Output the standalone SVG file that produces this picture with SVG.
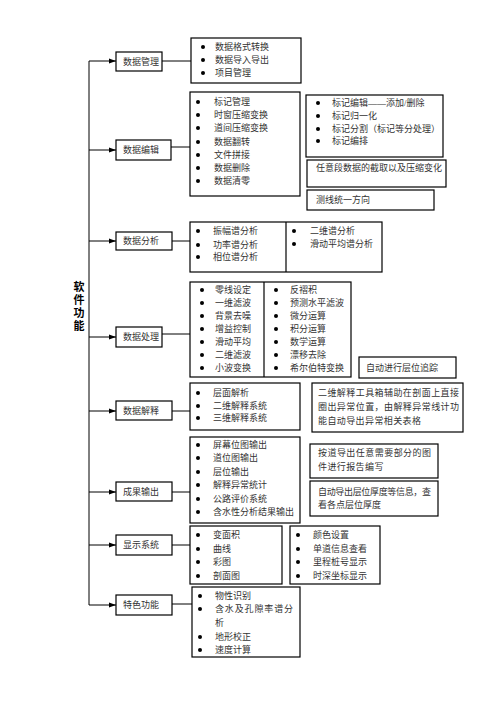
<svg xmlns="http://www.w3.org/2000/svg" width="496" height="702" viewBox="0 0 496 702">
<defs>
<style>
.box{fill:#fff;stroke:#000;stroke-width:1.2}
.t{font-family:"Liberation Serif","Noto Sans CJK SC",serif;font-size:9px;fill:#333}
.ttl{font-family:"Liberation Serif","Noto Sans CJK SC",serif;font-size:11px;font-weight:bold;fill:#000;text-anchor:middle}
.c{stroke:#000;stroke-width:1;fill:none}
.d{stroke:#000;stroke-width:1.2}
</style>
<marker id="ah" markerWidth="7" markerHeight="6" refX="7" refY="3" orient="auto" markerUnits="userSpaceOnUse"><path d="M0,0.6 L7,3 L0,5.4 z" fill="#000"/></marker>
<circle id="bu" r="2" fill="#000"/>
</defs>
<rect width="496" height="702" fill="#fff"/>

<g id="title">
<text class="ttl" x="79" y="291">软</text>
<text class="ttl" x="79" y="304">件</text>
<text class="ttl" x="79" y="317">功</text>
<text class="ttl" x="79" y="330">能</text>
</g>

<g id="connectors">
<path class="c" d="M89,61 V605"/>
<path class="c" d="M89,61 H116" marker-end="url(#ah)"/>
<path class="c" d="M89,150 H116" marker-end="url(#ah)"/>
<path class="c" d="M89,241 H116" marker-end="url(#ah)"/>
<path class="c" d="M89,337 H116" marker-end="url(#ah)"/>
<path class="c" d="M89,411 H116" marker-end="url(#ah)"/>
<path class="c" d="M89,492 H116" marker-end="url(#ah)"/>
<path class="c" d="M89,545 H116" marker-end="url(#ah)"/>
<path class="c" d="M89,605 H116" marker-end="url(#ah)"/>
<path class="c" d="M162,61 H191"/>
<path class="c" d="M171,147 H190"/>
<path class="c" d="M172,241 H190"/>
<path class="c" d="M162,334 H190"/>
<path class="c" d="M172,411 H190"/>
<path class="c" d="M172,492 H190"/>
<path class="c" d="M172,545 H190"/>
<path class="c" d="M172,604 H192"/>
</g>

<g id="n-guanli">
<rect class="box" x="116" y="52" width="46" height="19"/>
<text class="t" x="123" y="64.5">数据管理</text>
</g>
<g id="l-guanli">
<rect class="box" x="191" y="38" width="110" height="45"/>
<use href="#bu" x="203" y="47"/><text class="t" x="215" y="50.2">数据格式转换</text>
<use href="#bu" x="203" y="60"/><text class="t" x="215" y="63.2">数据导入导出</text>
<use href="#bu" x="203" y="73"/><text class="t" x="215" y="76.2">项目管理</text>
</g>

<g id="n-bianji">
<rect class="box" x="116" y="140" width="55" height="20"/>
<text class="t" x="123" y="153">数据编辑</text>
</g>
<g id="l-bianji">
<rect class="box" x="190" y="92" width="110" height="104"/>
<use href="#bu" x="198" y="102"/><text class="t" x="214" y="105.2">标记管理</text>
<use href="#bu" x="198" y="115"/><text class="t" x="214" y="118.2">时窗压缩变换</text>
<use href="#bu" x="198" y="128"/><text class="t" x="214" y="131.2">道间压缩变换</text>
<use href="#bu" x="198" y="142"/><text class="t" x="214" y="145.2">数据翻转</text>
<use href="#bu" x="198" y="155"/><text class="t" x="214" y="158.2">文件拼接</text>
<use href="#bu" x="198" y="168"/><text class="t" x="214" y="171.2">数据删除</text>
<use href="#bu" x="198" y="181"/><text class="t" x="214" y="184.2">数据清零</text>
</g>
<g id="l-biaoji">
<rect class="box" x="306" y="95" width="137" height="62"/>
<use href="#bu" x="318" y="103"/><text class="t" x="332" y="106.2">标记编辑——添加/删除</text>
<use href="#bu" x="318" y="116"/><text class="t" x="332" y="119.2">标记归一化</text>
<use href="#bu" x="318" y="129"/><text class="t" x="332" y="132.2">标记分割（标记等分处理）</text>
<use href="#bu" x="318" y="141"/><text class="t" x="332" y="144.2">标记编排</text>
</g>
<g id="d-jiequ">
<rect class="box" x="307" y="160" width="139" height="27"/>
<text class="t" x="316" y="170.5">任意段数据的截取以及压缩变化</text>
</g>
<g id="d-fangxiang">
<rect class="box" x="307" y="190" width="127" height="20"/>
<text class="t" x="316" y="203.2">测线统一方向</text>
</g>

<g id="n-fenxi">
<rect class="box" x="116" y="232" width="56" height="18"/>
<text class="t" x="123" y="244.2">数据分析</text>
</g>
<g id="l-fenxi">
<rect class="box" x="190" y="222" width="192" height="50"/>
<line class="d" x1="286" y1="222" x2="286" y2="272"/>
<use href="#bu" x="198" y="231"/><text class="t" x="213" y="234.2">振幅谱分析</text>
<use href="#bu" x="198" y="245"/><text class="t" x="213" y="248.2">功率谱分析</text>
<use href="#bu" x="198" y="257"/><text class="t" x="213" y="260.2">相位谱分析</text>
<use href="#bu" x="294" y="231"/><text class="t" x="310" y="234.2">二维谱分析</text>
<use href="#bu" x="294" y="244"/><text class="t" x="310" y="247.2">滑动平均谱分析</text>
</g>

<g id="n-chuli">
<rect class="box" x="116" y="327" width="46" height="20"/>
<text class="t" x="123" y="340">数据处理</text>
</g>
<g id="l-chuli">
<rect class="box" x="190" y="282" width="161" height="95"/>
<line class="d" x1="264" y1="282" x2="264" y2="377"/>
<use href="#bu" x="202" y="290"/><text class="t" x="215" y="293.2">零线设定</text>
<use href="#bu" x="202" y="303"/><text class="t" x="215" y="306.2">一维滤波</text>
<use href="#bu" x="202" y="316"/><text class="t" x="215" y="319.2">背景去噪</text>
<use href="#bu" x="202" y="329"/><text class="t" x="215" y="332.2">增益控制</text>
<use href="#bu" x="202" y="342"/><text class="t" x="215" y="345.2">滑动平均</text>
<use href="#bu" x="202" y="355"/><text class="t" x="215" y="358.2">二维滤波</text>
<use href="#bu" x="202" y="368"/><text class="t" x="215" y="371.2">小波变换</text>
<use href="#bu" x="276" y="290"/><text class="t" x="290" y="293.2">反褶积</text>
<use href="#bu" x="276" y="303"/><text class="t" x="290" y="306.2">预测水平滤波</text>
<use href="#bu" x="276" y="316"/><text class="t" x="290" y="319.2">微分运算</text>
<use href="#bu" x="276" y="329"/><text class="t" x="290" y="332.2">积分运算</text>
<use href="#bu" x="276" y="342"/><text class="t" x="290" y="345.2">数学运算</text>
<use href="#bu" x="276" y="355"/><text class="t" x="290" y="358.2">漂移去除</text>
<use href="#bu" x="276" y="368"/><text class="t" x="290" y="371.2">希尔伯特变换</text>
</g>
<g id="d-zhuizong">
<rect class="box" x="359" y="357" width="97" height="21"/>
<text class="t" x="366" y="370.7">自动进行层位追踪</text>
</g>

<g id="n-jieshi">
<rect class="box" x="116" y="401" width="56" height="19"/>
<text class="t" x="123" y="413.5">数据解释</text>
</g>
<g id="l-jieshi">
<rect class="box" x="190" y="383" width="110" height="47"/>
<use href="#bu" x="198" y="393"/><text class="t" x="213" y="396.2">层面解析</text>
<use href="#bu" x="198" y="406"/><text class="t" x="213" y="409.2">二维解释系统</text>
<use href="#bu" x="198" y="418"/><text class="t" x="213" y="421.2">三维解释系统</text>
</g>
<g id="d-jieshi">
<rect class="box" x="312" y="383" width="151" height="49"/>
<text class="t" x="318" y="396.2" textLength="141" lengthAdjust="spacing">二维解释工具箱辅助在剖面上直接</text>
<text class="t" x="318" y="410.2" textLength="141" lengthAdjust="spacing">圈出异常位置，由解释异常线计功</text>
<text class="t" x="318" y="424.2" letter-spacing="0.4">能自动导出异常相关表格</text>
</g>

<g id="n-chengguo">
<rect class="box" x="116" y="482" width="56" height="19"/>
<text class="t" x="123" y="494.5">成果输出</text>
</g>
<g id="l-chengguo">
<rect class="box" x="190" y="437" width="110" height="86"/>
<use href="#bu" x="198" y="445"/><text class="t" x="213" y="448.2">屏幕位图输出</text>
<use href="#bu" x="198" y="458"/><text class="t" x="213" y="461.2">道位图输出</text>
<use href="#bu" x="198" y="472"/><text class="t" x="213" y="475.2">层位输出</text>
<use href="#bu" x="198" y="485"/><text class="t" x="213" y="488.2">解释异常统计</text>
<use href="#bu" x="198" y="499"/><text class="t" x="213" y="502.2">公路评价系统</text>
<use href="#bu" x="198" y="512"/><text class="t" x="213" y="515.2">含水性分析结果输出</text>
</g>
<g id="d-baogao">
<rect class="box" x="310" y="444" width="128" height="34"/>
<text class="t" x="318" y="456.2" textLength="113" lengthAdjust="spacing">按道导出任意需要部分的图</text>
<text class="t" x="318" y="470.2" letter-spacing="0.4">件进行报告编写</text>
</g>
<g id="d-houdu">
<rect class="box" x="310" y="481" width="128" height="35"/>
<text class="t" x="318" y="495.2" textLength="113" lengthAdjust="spacing">自动导出层位厚度等信息，查</text>
<text class="t" x="318" y="508.2">看各点层位厚度</text>
</g>

<g id="n-xianshi">
<rect class="box" x="116" y="535" width="56" height="20"/>
<text class="t" x="123" y="548">显示系统</text>
</g>
<g id="l-xianshi1">
<rect class="box" x="190" y="526" width="92" height="58"/>
<use href="#bu" x="198" y="535"/><text class="t" x="213" y="538.2">变面积</text>
<use href="#bu" x="198" y="549"/><text class="t" x="213" y="552.2">曲线</text>
<use href="#bu" x="198" y="562"/><text class="t" x="213" y="565.2">彩图</text>
<use href="#bu" x="198" y="576"/><text class="t" x="213" y="579.2">剖面图</text>
</g>
<g id="l-xianshi2">
<rect class="box" x="290" y="526" width="90" height="58"/>
<use href="#bu" x="298" y="535"/><text class="t" x="313" y="538.2">颜色设置</text>
<use href="#bu" x="298" y="549"/><text class="t" x="313" y="552.2">单道信息查看</text>
<use href="#bu" x="298" y="562"/><text class="t" x="313" y="565.2">里程桩号显示</text>
<use href="#bu" x="298" y="576"/><text class="t" x="313" y="579.2">时深坐标显示</text>
</g>

<g id="n-tese">
<rect class="box" x="116" y="595" width="56" height="20"/>
<text class="t" x="123" y="608">特色功能</text>
</g>
<g id="l-tese">
<rect class="box" x="192" y="587" width="108" height="70"/>
<use href="#bu" x="200" y="596"/><text class="t" x="215" y="599.2">物性识别</text>
<use href="#bu" x="200" y="609"/><text class="t" x="215" y="612.2" textLength="78" lengthAdjust="spacing">含水及孔隙率谱分</text>
<text class="t" x="215" y="626.2">析</text>
<use href="#bu" x="200" y="637"/><text class="t" x="215" y="640.2">地形校正</text>
<use href="#bu" x="200" y="650"/><text class="t" x="215" y="653.2">速度计算</text>
</g>
</svg>
